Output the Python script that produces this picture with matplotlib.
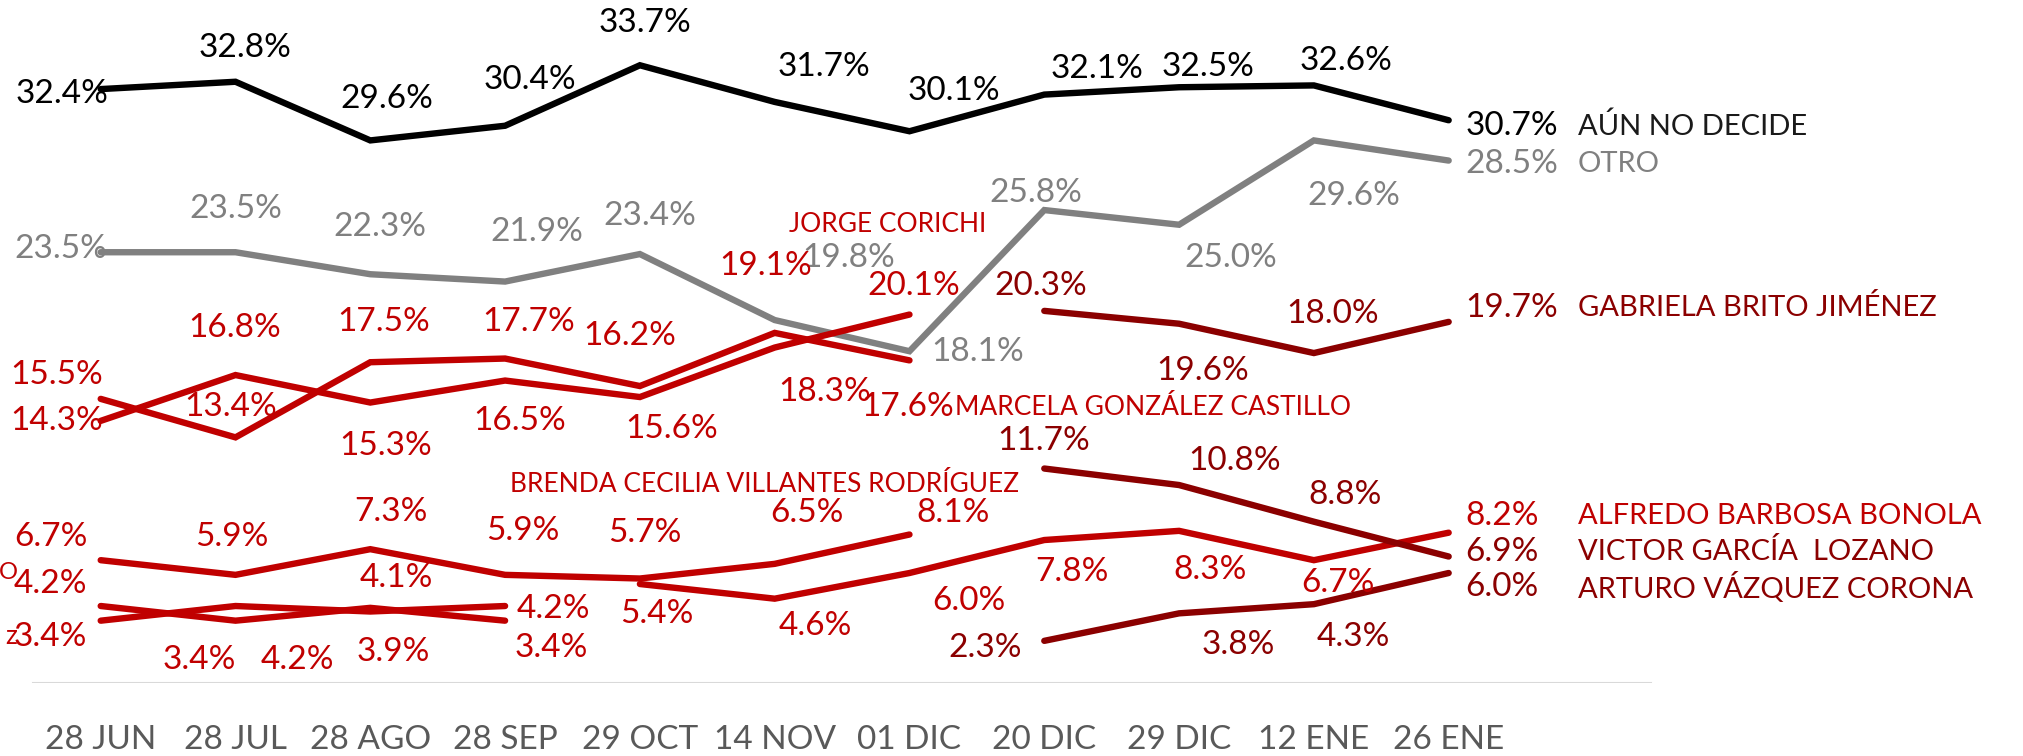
import numpy as np
import matplotlib
matplotlib.use('Agg')
import matplotlib.pyplot as plt

plt.rcParams['font.family'] = ['Lato', 'DejaVu Sans']

nan = np.nan

# fechas de levantamiento
dates = ['28 JUN', '28 JUL', '28 AGO', '28 SEP', '29 OCT', '14 NOV',
         '01 DIC', '20 DIC', '29 DIC', '12 ENE', '26 ENE']

# porcentajes por serie
aun_no_decide = [32.4, 32.8, 29.6, 30.4, 33.7, 31.7, 30.1, 32.1, 32.5, 32.6, 30.7]
otro = [23.5, 23.5, 22.3, 21.9, 23.4, 19.8, 18.1, 25.8, 25.0, 29.6, 28.5]
jorge = [14.3, 16.8, 15.3, 16.5, 15.6, 18.3, 20.1, nan, nan, nan, nan]
marcela = [15.5, 13.4, 17.5, 17.7, 16.2, 19.1, 17.6, nan, nan, nan, nan]
brenda = [6.7, 5.9, 7.3, 5.9, 5.7, 6.5, 8.1, nan, nan, nan, nan]
alfredo = [nan, nan, nan, nan, 5.4, 4.6, 6.0, 7.8, 8.3, 6.7, 8.2]
serie_o = [4.2, 3.4, 4.1, 3.4, nan, nan, nan, nan, nan, nan, nan]
serie_z = [3.4, 4.2, 3.9, 4.2, nan, nan, nan, nan, nan, nan, nan]
gabriela = [nan, nan, nan, nan, nan, nan, nan, 20.3, 19.6, 18.0, 19.7]
victor = [nan, nan, nan, nan, nan, nan, nan, 11.7, 10.8, 8.8, 6.9]
arturo = [nan, nan, nan, nan, nan, nan, nan, 2.3, 3.8, 4.3, 6.0]

BLACK = '#000000'
GRAY = '#808080'
RED = '#c00000'
DARK = '#8b0000'

# (values, color, label offsets in px (dx, dy down), end label (name, dy) or None)
series = [
    (aun_no_decide, BLACK,
     [(-39, 5), (10, -34), (17, -41), (25, -46), (5, -42), (49, -35),
      (44, -40), (53, -26), (29, -20), (32, -24)], ('AÚN NO DECIDE', 6)),
    (otro, GRAY,
     [(-40, -3), (0, -43), (10, -47), (32, -50), (10, -38), (74, -62),
      (68, 1), (-8, -17), (52, 33), (40, 56)], ('OTRO', 3)),
    (jorge, RED,
     [(-44, 0), (-1, -47), (15, 43), (15, 40), (32, 32), (50, 44), (4, -29)], None),
    (marcela, RED,
     [(-44, -24), (-5, -30), (13, -40), (24, -37), (-10, -50), (-9, -67), (-2, 47)], None),
    (brenda, RED,
     [(-50, -23), (-4, -38), (21, -37), (18, -44), (5, -46), (32, -51), (44, -22)], None),
    (alfredo, RED,
     [None, None, None, None, (17, 30), (41, 27), (59, 28), (28, 32), (31, 39),
      (24, 23)], ('ALFREDO BARBOSA BONOLA', -17)),
    (serie_o, RED, [(-50, -22), (-36, 39), (26, -30), (46, 27)], None),
    (serie_z, RED, [(-50, 16), (62, 54), (23, 40), (48, 3)], None),
    (gabriela, DARK,
     [None] * 7 + [(-4, -25), (24, 47), (19, -39)], ('GABRIELA BRITO JIMÉNEZ', -14)),
    (victor, DARK,
     [None] * 7 + [(-1, -28), (56, -24), (31, -27)], ('VICTOR GARCÍA  LOZANO', -5)),
    (arturo, DARK,
     [None] * 7 + [(-59, 7), (59, 32), (39, 33)], ('ARTURO VÁZQUEZ CORONA', 14)),
]

fig = plt.figure(figsize=(20.24, 7.56), dpi=100)
ax = fig.add_axes([0, 73 / 756, 1, 683 / 756])
x = np.arange(len(dates))

for values, color, offsets, end in series:
    v = np.array(values, dtype=float)
    ax.plot(x, v, color=color, lw=4.6, solid_capstyle='round',
            solid_joinstyle='miter', zorder=3)
    for i, off in enumerate(offsets):
        if off is None or np.isnan(v[i]):
            continue
        ax.annotate(f'{v[i]:.1f}%', (x[i], v[i]), xytext=(off[0], -off[1]),
                    textcoords='offset pixels', ha='center', va='center',
                    fontsize=24, color=color, zorder=4)
    if end is not None:
        name, dy = end
        ax.annotate(f'{v[-1]:.1f}%', (x[-1], v[-1]), xytext=(17, -dy),
                    textcoords='offset pixels', ha='left', va='center',
                    fontsize=24, color=color)
        ax.annotate(name, (x[-1], v[-1]), xytext=(129, -dy),
                    textcoords='offset pixels', ha='left', va='center',
                    fontsize=21, color='#1a1a1a' if color == BLACK else color)

# nombres dentro del grafico
ax.annotate('JORGE CORICHI', (6, jorge[6]), xytext=(-22, 90),
            textcoords='offset pixels', ha='center', va='center', fontsize=19, color=RED)
ax.annotate('MARCELA GONZÁLEZ CASTILLO', (6, marcela[6]), xytext=(46, -47),
            textcoords='offset pixels', ha='left', va='center', fontsize=19, color=RED)
ax.annotate('BRENDA CECILIA VILLANTES RODRÍGUEZ', (6, brenda[6]), xytext=(-145, 50),
            textcoords='offset pixels', ha='center', va='center', fontsize=19, color=RED)
# nombres cortados en el borde izquierdo
ax.annotate('O', (0, serie_o[0]), xytext=(-83, 34), textcoords='offset pixels',
            ha='right', va='center', fontsize=17, color=RED)
ax.annotate('z', (0, serie_z[0]), xytext=(-84, -16), textcoords='offset pixels',
            ha='right', va='center', fontsize=19, color=RED)

ax.axhline(0, xmin=33 / 2024, xmax=1650 / 2024, color='#d9d9d9', lw=2.2, zorder=1)

ax.set_xlim(-0.747, 14.268)
ax.set_ylim(0, 37.26)
ax.set_xticks(x)
ax.set_xticklabels(dates)
ax.tick_params(axis='x', length=0, pad=30, labelsize=24, labelcolor='#595959')
ax.set_yticks([])
for s in ax.spines.values():
    s.set_visible(False)

fig.savefig('out.png', dpi=100, facecolor='white')
